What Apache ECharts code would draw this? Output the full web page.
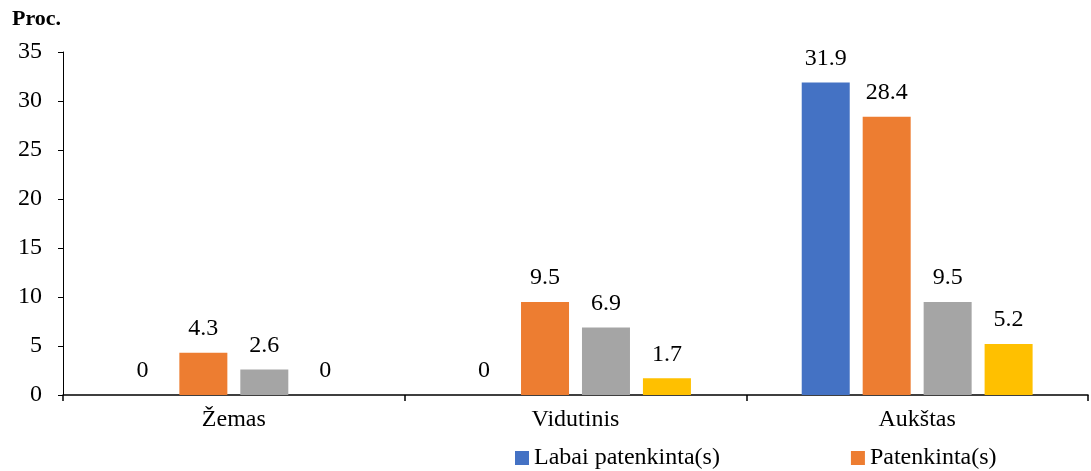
<!DOCTYPE html>
<html>
<head>
<meta charset="utf-8">
<script src="https://cdn.jsdelivr.net/npm/echarts@6/dist/echarts.min.js"></script>
<style>
  html, body { margin: 0; padding: 0; background: #fff; }
  #chart { width: 1091px; height: 471px; }
</style>
</head>
<body>
<div id="chart"></div>
<script>
// Satisfaction level groups and shares (percent)
const categories = ['Žemas', 'Vidutinis', 'Aukštas'];
const seriesNames = ['Labai patenkinta(s)', 'Patenkinta(s)', 'Nei patenkinta(s), nei nepatenkinta(s)', 'Nepatenkinta(s)'];
const labaiPatenkinta = [0, 0, 31.9];
const patenkinta = [4.3, 9.5, 28.4];
const neiPatenkinta = [2.6, 6.9, 9.5];
const nepatenkinta = [0, 1.7, 5.2];
const yTicks = [0, 5, 10, 15, 20, 25, 30, 35];
const legendShown = ['Labai patenkinta(s)', 'Patenkinta(s)'];

const colors = ['#4472C4', '#ED7D31', '#A5A5A5', '#FFC000'];
const values = [labaiPatenkinta, patenkinta, neiPatenkinta, nepatenkinta];
const font = '"Liberation Serif", serif';

const chart = echarts.init(document.getElementById('chart'));
chart.setOption({
  animation: false,
  textStyle: { fontFamily: font },
  title: {
    text: 'Proc.',
    left: 7, top: 3,
    textStyle: { fontFamily: font, fontSize: 22, fontWeight: 'bold', color: '#000' }
  },
  legend: {
    data: legendShown,
    left: 510, top: 441,
    itemWidth: 14, itemHeight: 14,
    itemGap: 131,
    icon: 'rect',
    textStyle: { fontFamily: font, fontSize: 24, color: '#000' }
  },
  grid: { left: 63, right: 3, top: 52, bottom: 76 },
  xAxis: {
    type: 'category',
    data: categories,
    axisLine: { lineStyle: { color: '#000', width: 1.5 } },
    axisTick: { show: true, length: 6, lineStyle: { color: '#000', width: 1.5 } },
    axisLabel: { fontFamily: font, fontSize: 24, color: '#000', margin: 13 }
  },
  yAxis: {
    type: 'value',
    min: yTicks[0], max: yTicks[yTicks.length - 1], interval: 5,
    splitLine: { show: false },
    axisLine: { show: true, lineStyle: { color: '#000', width: 1 } },
    axisTick: { show: true, length: 5, lineStyle: { color: '#000' } },
    axisLabel: { fontFamily: font, fontSize: 24, color: '#000', margin: 21 }
  },
  series: seriesNames.map((name, i) => ({
    name,
    type: 'bar',
    data: values[i],
    barWidth: 48,
    barGap: '27%',
    itemStyle: { color: colors[i] },
    label: {
      show: true,
      position: 'top',
      distance: 12,
      fontFamily: font,
      fontSize: 24,
      color: '#000'
    }
  }))
});
</script>
</body>
</html>
